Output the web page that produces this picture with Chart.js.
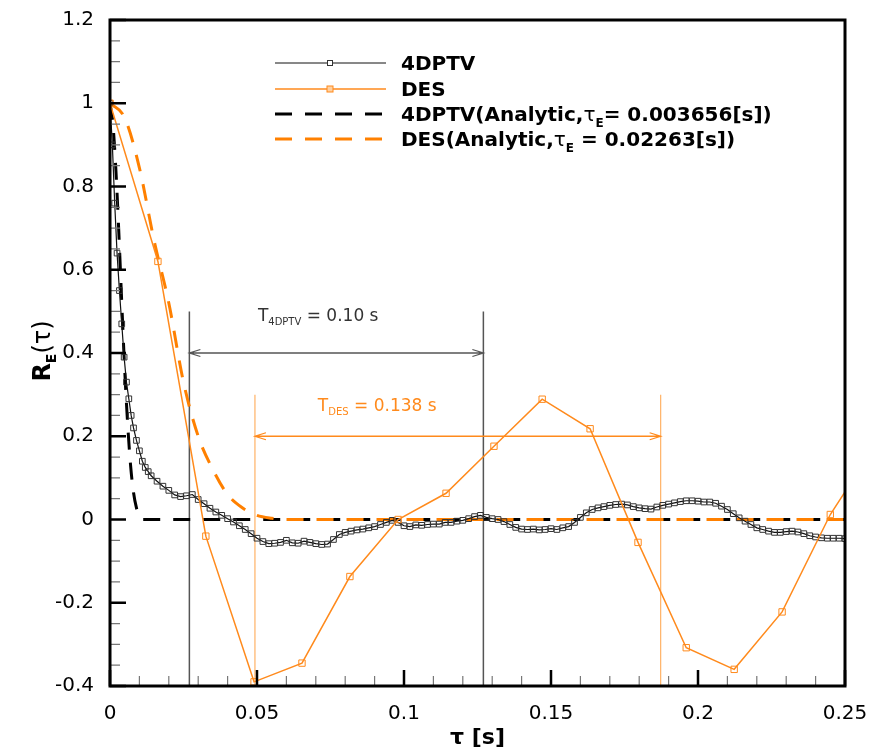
<!DOCTYPE html>
<html>
<head>
<meta charset="utf-8">
<script src="https://cdn.jsdelivr.net/npm/chart.js@4/dist/chart.umd.min.js"></script>
<style>
html,body{margin:0;padding:0;background:#fff;}
#wrap{width:892px;height:749px;}
</style>
</head>
<body>
<div id="wrap"><canvas id="c" width="892" height="749"></canvas></div>
<script>
// ---------------- data ----------------
const xTickValues = [0, 0.05, 0.1, 0.15, 0.2, 0.25];
const xTickLabels = ['0', '0.05', '0.1', '0.15', '0.2', '0.25'];
const yTickValues = [-0.4, -0.2, 0, 0.2, 0.4, 0.6, 0.8, 1, 1.2];
const yTickLabels = ['-0.4', '-0.2', '0', '0.2', '0.4', '0.6', '0.8', '1', '1.2'];

// 4DPTV measured autocorrelation
const tau4DPTV = [0,0.0008,0.0016,0.0024,0.0032,0.004,0.0048,0.0056,0.0064,0.0072,0.008,0.009,0.010,0.011,0.012,0.013,0.014,
  0.016,0.018,0.020,0.022,0.024,0.026,0.028,0.030,0.032,0.034,0.036,0.038,0.040,0.042,0.044,0.046,0.048,0.050,
  0.052,0.054,0.056,0.058,0.060,0.062,0.064,0.066,0.068,0.070,0.072,0.074,0.076,0.078,0.080,0.082,0.084,0.086,
  0.088,0.090,0.092,0.094,0.096,0.098,0.100,0.102,0.104,0.106,0.108,0.110,0.112,0.114,0.116,0.118,0.120,0.122,
  0.124,0.126,0.128,0.130,0.132,0.134,0.136,0.138,0.140,0.142,0.144,0.146,0.148,0.150,0.152,0.154,0.156,0.158,
  0.160,0.162,0.164,0.166,0.168,0.170,0.172,0.174,0.176,0.178,0.180,0.182,0.184,0.186,0.188,0.190,0.192,0.194,
  0.196,0.198,0.200,0.202,0.204,0.206,0.208,0.210,0.212,0.214,0.216,0.218,0.220,0.222,0.224,0.226,0.228,0.230,
  0.232,0.234,0.236,0.238,0.240,0.242,0.244,0.246,0.248,0.250];
const r4DPTV = [1.0,0.9,0.76,0.64,0.55,0.47,0.39,0.33,0.29,0.25,0.22,0.19,0.165,0.14,0.125,0.115,0.105,
  0.092,0.08,0.07,0.059,0.055,0.057,0.06,0.048,0.038,0.027,0.018,0.01,0.002,-0.006,-0.015,-0.024,-0.034,-0.045,
  -0.053,-0.058,-0.057,-0.055,-0.05,-0.056,-0.057,-0.052,-0.055,-0.058,-0.06,-0.059,-0.048,-0.036,-0.031,-0.028,-0.025,-0.023,
  -0.02,-0.017,-0.012,-0.007,-0.002,-0.007,-0.015,-0.017,-0.013,-0.014,-0.012,-0.011,-0.011,-0.007,-0.007,-0.004,-0.002,0.002,
  0.007,0.01,0.005,0.002,0.0,-0.005,-0.012,-0.019,-0.023,-0.024,-0.023,-0.025,-0.024,-0.022,-0.024,-0.02,-0.017,-0.007,
  0.005,0.016,0.024,0.028,0.031,0.034,0.036,0.037,0.035,0.031,0.028,0.026,0.025,0.03,0.034,0.037,0.04,0.043,
  0.045,0.045,0.044,0.042,0.042,0.039,0.032,0.024,0.014,0.004,-0.004,-0.012,-0.02,-0.024,-0.028,-0.031,-0.031,-0.029,
  -0.028,-0.03,-0.034,-0.039,-0.042,-0.044,-0.045,-0.045,-0.045,-0.046];

// DES autocorrelation
const tauDES = [0,0.0163,0.0326,0.049,0.0653,0.0816,0.098,0.1143,0.1306,0.147,0.1633,0.1796,0.196,0.2123,0.2286,0.245,0.2613];
const rDES   = [1.0,0.62,-0.04,-0.39,-0.345,-0.137,0.0,0.063,0.176,0.289,0.218,-0.055,-0.308,-0.36,-0.222,0.012,0.19];

// analytic curves
const tauA4DPTV = [0,0.001,0.002,0.003,0.004,0.005,0.006,0.007,0.008,0.009,0.010,0.011,0.25];
const rA4DPTV   = [1.0,0.95,0.84,0.69,0.52,0.36,0.23,0.13,0.065,0.028,0.008,0.0,0.0];
const tauADES = [0,0.005,0.01,0.015,0.02,0.025,0.03,0.035,0.04,0.045,0.05,0.055,0.06,0.25];
const rADES   = [1.0,0.965,0.845,0.67,0.52,0.33,0.2,0.12,0.06,0.028,0.01,0.003,0.0,0.0];

// period annotations
const period4DPTV = {x1: 0.027, x2: 0.127, top: 0.5, arrowY: 0.4, labelX: 0.0503, labelY: 0.477, sub: '4DPTV', text: ' = 0.10 s'};
const periodDES   = {x1: 0.0493, x2: 0.1873, top: 0.3, arrowY: 0.2, labelX: 0.0707, labelY: 0.261, sub: 'DES', text: ' = 0.138 s'};

// ---------------- styles ----------------
const ORANGE = '#ff8a1c';
const ORANGE_DASH = '#ff8000';
const ORANGE_LIGHT = '#ffb266';
const FONT = '"DejaVu Sans", "Liberation Sans", Arial, sans-serif';

const pts = (xs, ys) => xs.map((x, i) => ({x: x, y: ys[i]}));

const datasets = [
  {label: 'DES', data: pts(tauDES, rDES), borderColor: ORANGE, borderWidth: 1.5,
   pointStyle: 'rect', pointRadius: 4.5, pointBorderColor: ORANGE, pointBorderWidth: 1,
   pointBackgroundColor: 'rgba(255,255,255,0)', tension: 0, order: 1},
  {label: '4DPTV', data: pts(tau4DPTV, r4DPTV), borderColor: '#111', borderWidth: 1.2,
   pointStyle: 'rect', pointRadius: 4, pointBorderColor: '#333', pointBorderWidth: 1,
   pointBackgroundColor: 'rgba(255,255,255,0)', tension: 0, order: 2},
  {label: 'DES(Analytic)', data: pts(tauADES, rADES), borderColor: ORANGE_DASH, borderWidth: 3,
   borderDash: [17, 13], pointRadius: 0, cubicInterpolationMode: 'monotone', order: 3},
  {label: '4DPTV(Analytic)', data: pts(tauA4DPTV, rA4DPTV), borderColor: '#000', borderWidth: 3,
   borderDash: [17, 13], pointRadius: 0, cubicInterpolationMode: 'monotone', order: 4}
];

// rich text helper
function segWidth(ctx, segs) {
  let w = 0;
  segs.forEach(s => { ctx.font = s.font; w += ctx.measureText(s.t).width; });
  return w;
}
function drawSegs(ctx, x, y, segs, color) {
  ctx.fillStyle = color;
  ctx.textBaseline = 'alphabetic';
  ctx.textAlign = 'left';
  let cx = x;
  segs.forEach(s => {
    ctx.font = s.font;
    ctx.fillText(s.t, cx, y + (s.dy || 0));
    cx += ctx.measureText(s.t).width;
  });
}

const decor = {
  id: 'decor',
  beforeDatasetsDraw(chart) {
    const {ctx, scales: {x, y}} = chart;
    ctx.save();
    [[period4DPTV, '#555', '#555', 1.5], [periodDES, ORANGE_LIGHT, ORANGE, 1.2]].forEach(([p, vcol, hcol, lw]) => {
      const xa = x.getPixelForValue(p.x1), xb = x.getPixelForValue(p.x2);
      const yt = y.getPixelForValue(p.top), yb = y.getPixelForValue(-0.4);
      const ya = y.getPixelForValue(p.arrowY);
      ctx.strokeStyle = vcol; ctx.lineWidth = lw;
      ctx.beginPath();
      ctx.moveTo(xa, yt); ctx.lineTo(xa, yb);
      ctx.moveTo(xb, yt); ctx.lineTo(xb, yb);
      ctx.stroke();
      ctx.strokeStyle = hcol; ctx.lineWidth = 1.3;
      ctx.beginPath();
      ctx.moveTo(xa, ya); ctx.lineTo(xb, ya);
      ctx.moveTo(xa + 11, ya - 3.5); ctx.lineTo(xa, ya); ctx.lineTo(xa + 11, ya + 3.5);
      ctx.moveTo(xb - 11, ya - 3.5); ctx.lineTo(xb, ya); ctx.lineTo(xb - 11, ya + 3.5);
      ctx.stroke();
    });
    ctx.restore();
  },
  afterDatasetsDraw(chart) {
    const {ctx, chartArea: a, scales: {x, y}} = chart;
    ctx.save();
    // minor + major ticks (inward)
    ctx.strokeStyle = '#777'; ctx.lineWidth = 1.2;
    ctx.beginPath();
    for (let i = 1; i < 25; i++) {
      if (i % 5 === 0) continue;
      const px = x.getPixelForValue(i * 0.01);
      ctx.moveTo(px, a.bottom); ctx.lineTo(px, a.bottom - 10);
    }
    for (let i = -8; i <= 24; i++) {
      if (i % 4 === 0) continue;
      const py = y.getPixelForValue(i * 0.05);
      ctx.moveTo(a.left, py); ctx.lineTo(a.left + 10, py);
    }
    ctx.stroke();
    ctx.strokeStyle = '#000'; ctx.lineWidth = 2.5;
    ctx.beginPath();
    xTickValues.forEach(v => {
      const px = x.getPixelForValue(v);
      ctx.moveTo(px, a.bottom); ctx.lineTo(px, a.bottom - 16);
    });
    yTickValues.forEach(v => {
      const py = y.getPixelForValue(v);
      ctx.moveTo(a.left, py); ctx.lineTo(a.left + 16, py);
    });
    ctx.stroke();
    ctx.lineWidth = 3;
    ctx.strokeRect(a.left, a.top, a.right - a.left, a.bottom - a.top);

    // annotation labels
    [[period4DPTV, '#333'], [periodDES, ORANGE]].forEach(([p, col]) => {
      drawSegs(ctx, x.getPixelForValue(p.labelX), y.getPixelForValue(p.labelY), [
        {t: 'T', font: '17px ' + FONT},
        {t: p.sub, font: '10px ' + FONT, dy: 4},
        {t: p.text, font: '17px ' + FONT}
      ], col);
    });

    // legend
    const B = 'bold 20px ' + FONT;
    const rows = [
      {ds: datasets[1], segs: [{t: '4DPTV', font: B}]},
      {ds: datasets[0], segs: [{t: 'DES', font: B}]},
      {ds: datasets[3], segs: [{t: '4DPTV(Analytic,', font: B}, {t: 'τ', font: '20px ' + FONT},
        {t: 'E', font: 'bold 12px ' + FONT, dy: 6}, {t: '= 0.003656[s])', font: B}]},
      {ds: datasets[2], segs: [{t: 'DES(Analytic,', font: B}, {t: 'τ', font: '20px ' + FONT},
        {t: 'E', font: 'bold 12px ' + FONT, dy: 6}, {t: ' = 0.02263[s])', font: B}]}
    ];
    const rowY = [63, 89, 114, 139];
    rows.forEach((r, i) => {
      const yy = rowY[i];
      ctx.save();
      ctx.strokeStyle = r.ds.borderColor;
      ctx.lineWidth = i === 0 ? 1 : r.ds.borderWidth;
      ctx.setLineDash(r.ds.borderDash || []);
      ctx.beginPath(); ctx.moveTo(275, yy); ctx.lineTo(386, yy); ctx.stroke();
      ctx.restore();
      if (r.ds.pointRadius) {
        ctx.save();
        ctx.strokeStyle = r.ds.pointBorderColor; ctx.lineWidth = 1;
        const s = i === 1 ? 3 : 2.5;
        ctx.fillStyle = i === 1 ? '#ffd0a0' : '#fff';
        ctx.fillRect(330 - s, yy - s, 2 * s, 2 * s);
        ctx.strokeRect(330 - s, yy - s, 2 * s, 2 * s);
        ctx.restore();
      }
      drawSegs(ctx, 401, yy + 7, r.segs, '#000');
    });

    // axis titles
    const xt = [{t: 'τ [s]', font: 'bold 22px ' + FONT}];
    drawSegs(ctx, (a.left + a.right) / 2 - segWidth(ctx, xt) / 2, 744, xt, '#000');
    const yt = [{t: 'R', font: 'bold 24px ' + FONT}, {t: 'E', font: 'bold 14px ' + FONT, dy: 6},
      {t: '(τ)', font: '24px ' + FONT}];
    ctx.save();
    ctx.translate(50, (a.top + a.bottom) / 2 - 2);
    ctx.rotate(-Math.PI / 2);
    drawSegs(ctx, -segWidth(ctx, yt) / 2, 0, yt, '#000');
    ctx.restore();
    ctx.restore();
  }
};

new Chart(document.getElementById('c'), {
  type: 'line',
  data: {datasets: datasets},
  options: {
    responsive: false,
    animation: false,
    devicePixelRatio: 1,
    layout: {padding: {top: 18, right: 47, left: 0, bottom: 0}},
    plugins: {legend: {display: false}, tooltip: {enabled: false}},
    elements: {line: {fill: false}},
    scales: {
      x: {
        type: 'linear', min: 0, max: 0.25,
        grid: {display: false}, border: {display: false},
        afterBuildTicks: s => { s.ticks = xTickValues.map(v => ({value: v})); },
        afterFit: s => { s.height = 63; },
        ticks: {padding: 8, color: '#000', font: {family: FONT, size: 20},
          maxRotation: 0, autoSkip: false, callback: (v, i) => xTickLabels[i]}
      },
      y: {
        type: 'linear', min: -0.4, max: 1.2,
        grid: {display: false}, border: {display: false},
        afterBuildTicks: s => { s.ticks = yTickValues.map(v => ({value: v})); },
        afterFit: s => { s.width = 110; },
        ticks: {padding: 8, color: '#000', font: {family: FONT, size: 20},
          autoSkip: false, callback: (v, i) => yTickLabels[i]}
      }
    }
  },
  plugins: [decor]
});
</script>
</body>
</html>
